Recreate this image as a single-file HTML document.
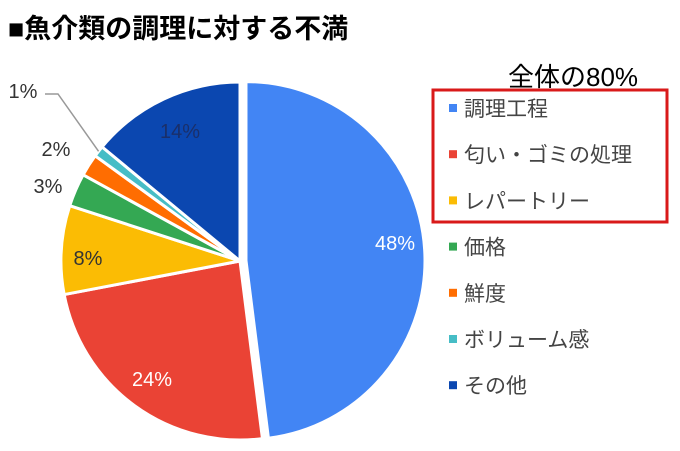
<!DOCTYPE html>
<html><head><meta charset="utf-8"><style>
body{margin:0;background:#fff;}
#c{position:relative;width:680px;height:451px;overflow:hidden;font-family:"Liberation Sans","Noto Sans CJK JP",sans-serif;}
</style></head><body>
<div id="c">
<svg width="680" height="451">
<text x="8" y="38" font-size="27" font-weight="bold" fill="#000" font-family="Liberation Sans, Noto Sans CJK JP, sans-serif">■魚介類の調理に対する不満</text>
<text x="508" y="86" font-size="26" fill="#000" font-family="Liberation Sans, Noto Sans CJK JP, sans-serif">全体の80%</text>
<rect x="433" y="90" width="234" height="132" fill="none" stroke="#d91a1a" stroke-width="3"/>
<g id="pie"></g>
<g id="legend"></g>
</svg>
</div>
<script>
const categories=["調理工程","匂い・ゴミの処理","レパートリー","価格","鮮度","ボリューム感","その他"];
const values=[48,24,8,3,2,1,14];
const colors=["#4285f4","#ea4335","#fbbc04","#34a853","#ff6d01","#46bdc6","#0b47b0"];
const NS="http://www.w3.org/2000/svg";
const cx=240,cy=261,r=179;
const pie=document.getElementById('pie');
const total=values.reduce((a,b)=>a+b,0);
function pt(a,rad,ox,oy){return [cx+ox+rad*Math.sin(a),cy+oy-rad*Math.cos(a)];}
let acc=0;
const labelPos=[[395,250,'#fff'],[152,386,'#fff'],[88,265,'#333'],[48,193,'#333'],[56,156,'#333'],[23,98,'#333'],[180,138,'#1a2f6a']];
values.forEach((v,i)=>{
  const a0=acc/total*2*Math.PI;acc+=v;const a1=acc/total*2*Math.PI;
  const mid=(a0+a1)/2;const ex=i===0?6:0;
  const ox=ex*Math.sin(mid),oy=-ex*Math.cos(mid);
  const p0=pt(a0,r,ox,oy),p1=pt(a1,r,ox,oy);
  const large=(a1-a0)>Math.PI?1:0;
  const path=document.createElementNS(NS,'path');
  path.setAttribute('d',`M${cx+ox},${cy+oy}L${p0[0]},${p0[1]}A${r},${r} 0 ${large} 1 ${p1[0]},${p1[1]}Z`);
  path.setAttribute('fill',colors[i]);path.setAttribute('stroke','#fff');path.setAttribute('stroke-width','3');
  
  
  pie.appendChild(path);
  const t=document.createElementNS(NS,'text');
  const lp=labelPos[i];
  t.setAttribute('x',lp[0]);t.setAttribute('y',lp[1]);t.setAttribute('fill',lp[2]);
  t.setAttribute('font-size','20');t.setAttribute('text-anchor','middle');
  t.setAttribute('font-family','Liberation Sans, sans-serif');
  t.textContent=v+'%';
  
  
  pie.appendChild(t);
  if(i===5){
    const l=document.createElementNS(NS,'polyline');
    const pe=pt(mid,r,0,0);
    l.setAttribute('points',`45,94 58,94 ${pe[0]},${pe[1]}`);
    l.setAttribute('fill','none');l.setAttribute('stroke','#999');l.setAttribute('stroke-width','1.5');
    
    
    pie.appendChild(l);
  }
});
const lg=document.getElementById('legend');
categories.forEach((c,i)=>{
  const y=108+i*46.2;
  const g=document.createElementNS(NS,'g');
  
  
  const s=document.createElementNS(NS,'rect');
  s.setAttribute('x',449);s.setAttribute('y',y-4);s.setAttribute('width',8);s.setAttribute('height',8);s.setAttribute('fill',colors[i]);
  
  
  const t=document.createElementNS(NS,'text');
  t.setAttribute('x',464);t.setAttribute('y',y+8);t.setAttribute('font-size','21');t.setAttribute('fill','#444');
  t.setAttribute('font-family','Liberation Sans, Noto Sans CJK JP, sans-serif');
  t.textContent=c;
  
  
  g.appendChild(s);g.appendChild(t);lg.appendChild(g);
});
</script>
</body></html>
